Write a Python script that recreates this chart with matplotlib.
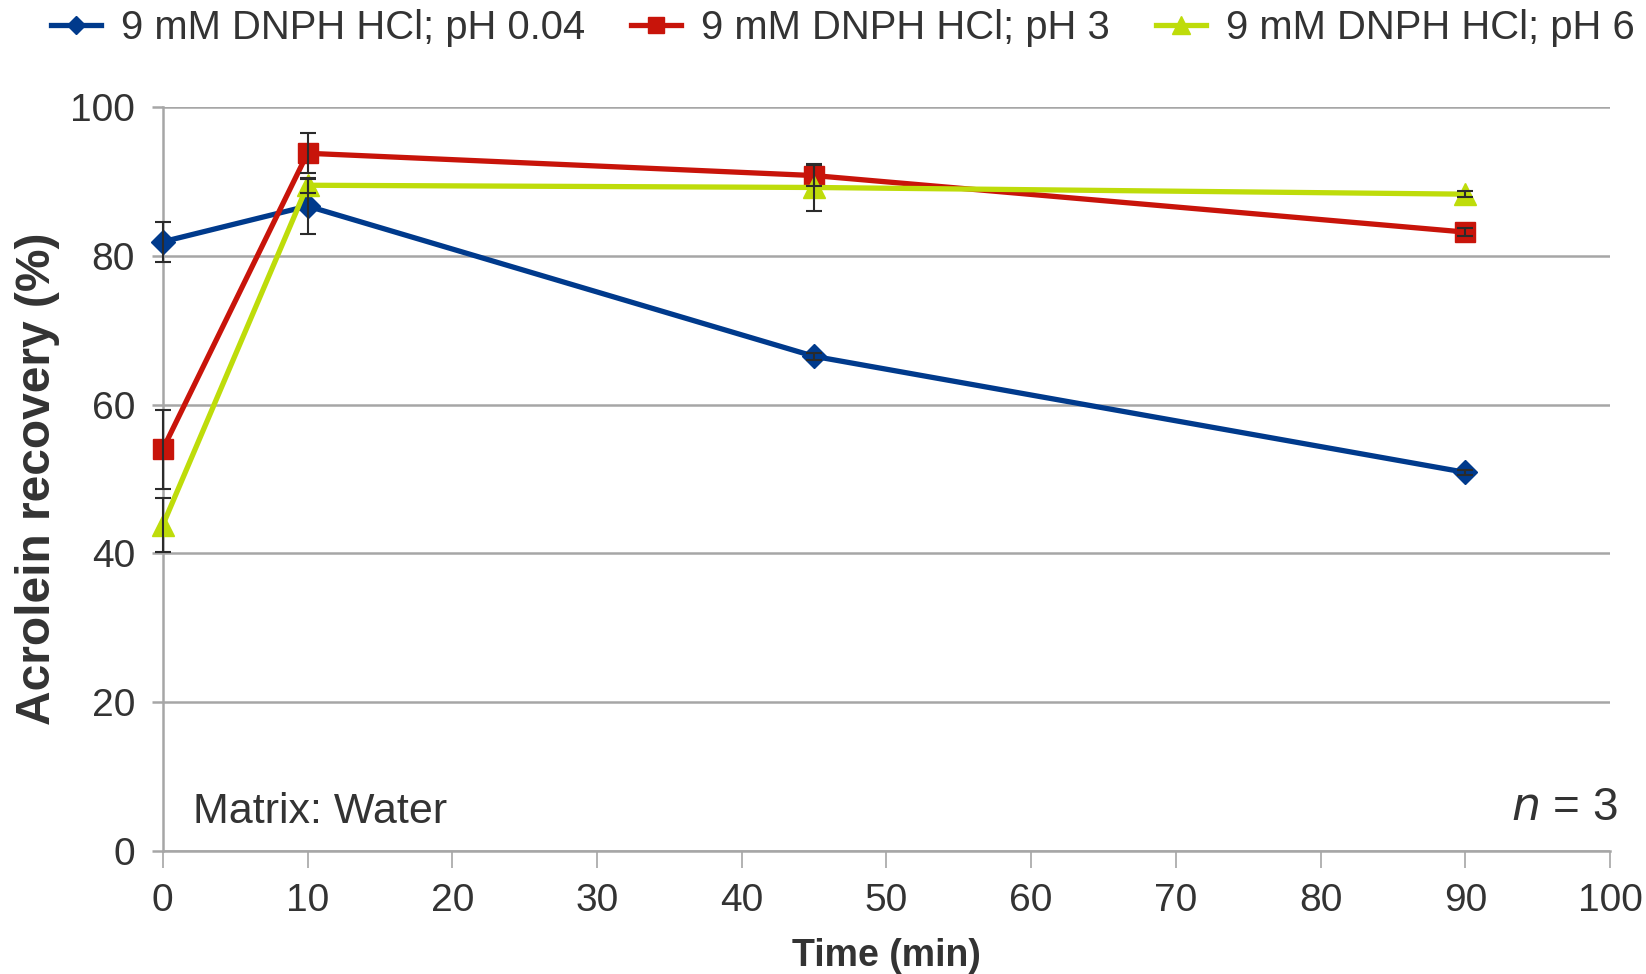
import numpy as np
import matplotlib
matplotlib.use("Agg")
from matplotlib import pyplot as plt

plt.rcParams['font.family'] = ['Liberation Sans', 'DejaVu Sans']

# data
time_min = [0, 10, 45, 90]
ph004 = [81.9, 86.7, 66.5, 50.9]
ph004_err = [2.7, 3.7, 0.5, 0.3]
ph3 = [54.0, 93.8, 90.8, 83.2]
ph3_err = [5.3, 2.7, 1.4, 0.5]
ph6 = [43.8, 89.5, 89.2, 88.3]
ph6_err = [3.6, 1.0, 3.1, 0.4]

labels = ['9 mM DNPH HCl; pH 0.04', '9 mM DNPH HCl; pH 3', '9 mM DNPH HCl; pH 6']
colors = ['#003A8C', '#C8140A', '#BEDC0A']
markers = ['D', 's', '^']
msizes = [12, 15, 16]

grid_c = '#A6A6A6'
text_c = '#333333'

fig = plt.figure(figsize=(16.46, 9.74), dpi=100)
ax = fig.add_axes([0.0989, 0.1263, 0.8793, 0.7637])

series = [(ph004, ph004_err), (ph3, ph3_err), (ph6, ph6_err)]
for i, (vals, err) in enumerate(series):
    ax.plot(time_min, vals, color=colors[i], lw=3.8, marker=markers[i],
            markersize=msizes[i], label=labels[i], zorder=3 + i, clip_on=False)
for i, (vals, err) in enumerate(series):
    eb = ax.errorbar(time_min, vals, yerr=err, fmt='none', ecolor='#2b2b2b',
                     elinewidth=1.5, capsize=6, capthick=1.5, zorder=7)
    # keep caps at x=0 from being cut by the axes edge
    for art in eb.lines[1] + eb.lines[2]:
        art.set_clip_on(False)

ax.set_xlim(0, 100)
ax.set_ylim(0, 100)
ax.set_xticks(np.arange(0, 101, 10))
ax.set_yticks(np.arange(0, 101, 20))
ax.yaxis.grid(True, color=grid_c, lw=1.8)
ax.set_axisbelow(True)
for s in ['top', 'right']:
    ax.spines[s].set_visible(False)
ax.spines['left'].set_color(grid_c)
ax.spines['bottom'].set_color(grid_c)
ax.spines['left'].set_linewidth(1.8)
ax.spines['bottom'].set_linewidth(1.8)
ax.tick_params(axis='y', length=8, width=1.8, color=grid_c, pad=12,
               labelsize=28, labelcolor=text_c)
ax.tick_params(axis='x', length=12, width=1.2, color=grid_c, pad=11,
               labelsize=28, labelcolor=text_c)

ax.set_xlabel('Time (min)', fontsize=27, fontweight='bold', color=text_c, labelpad=14)
ax.set_ylabel('Acrolein recovery (%)', fontsize=34.5, fontweight='bold', color=text_c, labelpad=7)

ax.text(0.021, 0.037, 'Matrix: Water', transform=ax.transAxes, fontsize=31,
        color=text_c, ha='left', va='baseline')
fig.text(0.983, 0.158, '$n$ = 3', fontsize=33, color=text_c, ha='right',
         va='baseline', math_fontfamily='custom')

leg = fig.legend(loc='center', bbox_to_anchor=(0.512, 0.971), ncol=3,
                 frameon=False, fontsize=28.8, handlelength=1.25,
                 handletextpad=0.5, columnspacing=1.15, labelcolor=text_c,
                 markerscale=0.8)

plt.savefig('out.png', dpi=100)
